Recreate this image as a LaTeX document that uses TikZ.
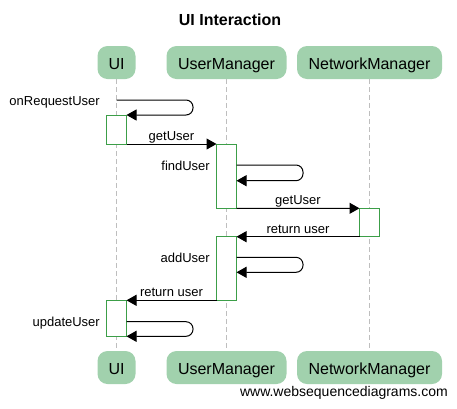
\documentclass[tikz,border=0pt]{standalone}
\usepackage{fontspec}
\setmainfont{Liberation Sans}
\usetikzlibrary{arrows.meta}
\definecolor{partfill}{RGB}{161,209,173}
\definecolor{actgreen}{RGB}{60,158,72}
\definecolor{lifegray}{RGB}{190,190,190}
\tikzset{
	part/.style={rounded corners=10pt,fill=partfill,inner sep=0pt,minimum height=33pt,text height=13pt,text depth=0pt,font=\fontsize{16}{18}\selectfont},
	act/.style={draw=actgreen,fill=white,line width=1pt,inner sep=0pt,outer sep=0pt,minimum width=20pt,minimum height=#1},
	life/.style={draw=lifegray,line width=1pt,dash pattern=on 5pt off 3pt},
	msg/.style={line width=1pt,-{Triangle[length=10pt,width=11pt]}},
	self/.style={msg,rounded corners=7pt},
	lbl/.style={font=\fontsize{13}{15}\selectfont,inner sep=0pt},
	top/.style={lbl,midway,anchor=base,yshift=3.5pt}
}
\begin{document}
\begin{tikzpicture}[x=1pt,y=-1pt]
	\useasboundingbox (0,0) rectangle (457,408);
	\node [font=\fontsize{16}{18}\selectfont\bfseries,anchor=base] (title) at (230,25.3) {UI Interaction};

	\node [part,minimum width=38pt] (ui) at (116.5,62.5) {UI};
	\node [part,minimum width=120pt] (um) at (226.5,62.5) {UserManager};
	\node [part,minimum width=145pt] (nm) at (369.5,62.5) {NetworkManager};
	\node [part,minimum width=38pt] (uib) at (116.5,367.5) {UI};
	\node [part,minimum width=120pt] (umb) at (226.5,367.5) {UserManager};
	\node [part,minimum width=145pt] (nmb) at (369.5,367.5) {NetworkManager};

	\draw [life] (ui) -- (uib);
	\draw [life] (um) -- (umb);
	\draw [life] (nm) -- (nmb);

	\node [act=29pt] (a1) at (116.5,129.5) {};
	\node [act=64.3pt] (b1) at (226.5,176.15) {};
	\node [act=28.4pt] (c1) at (369.5,222.5) {};
	\node [act=63.6pt] (b2) at (226.5,268.5) {};
	\node [act=36pt] (a2) at (116.5,318.3) {};

	\coordinate (r0) at (116.5,100);
	\coordinate (f0) at (236.5,165);
	\coordinate (f1) at (236.5,180.7);
	\coordinate (d0) at (236.5,257.3);
	\coordinate (d1) at (236.5,272.3);
	\coordinate (u0) at (126.5,321.7);

	\node [lbl,anchor=base east] (l1) at (100,105) {onRequestUser};
	\node [lbl,anchor=base east] (l2) at (210,170) {findUser};
	\node [lbl,anchor=base east] (l3) at (210,262) {addUser};
	\node [lbl,anchor=base east] (l4) at (100,326) {updateUser};

	\draw [self] (r0) -- ++(76.5,0) |- (a1.north east);
	\draw [msg] (a1.south east) -- node [top] {getUser} (b1.north west);
	\draw [self] (f0) -- ++(66.5,0) |- (f1);
	\draw [msg] (b1.south east) -- node [top] {getUser} (c1.north west);
	\draw [msg] (c1.south west) -- node [top] {return user} (b2.north east);
	\draw [self] (d0) -- ++(66.5,0) |- (d1);
	\draw [msg] (b2.south west) -- node [top] {return user} (a2.north east);
	\draw [self] (u0) -- ++(66.5,0) |- (a2.south east);

	\node [font=\fontsize{14}{16}\selectfont,inner sep=0pt,anchor=base east] (web) at (448,396) {www.websequencediagrams.com};
\end{tikzpicture}
\end{document}
